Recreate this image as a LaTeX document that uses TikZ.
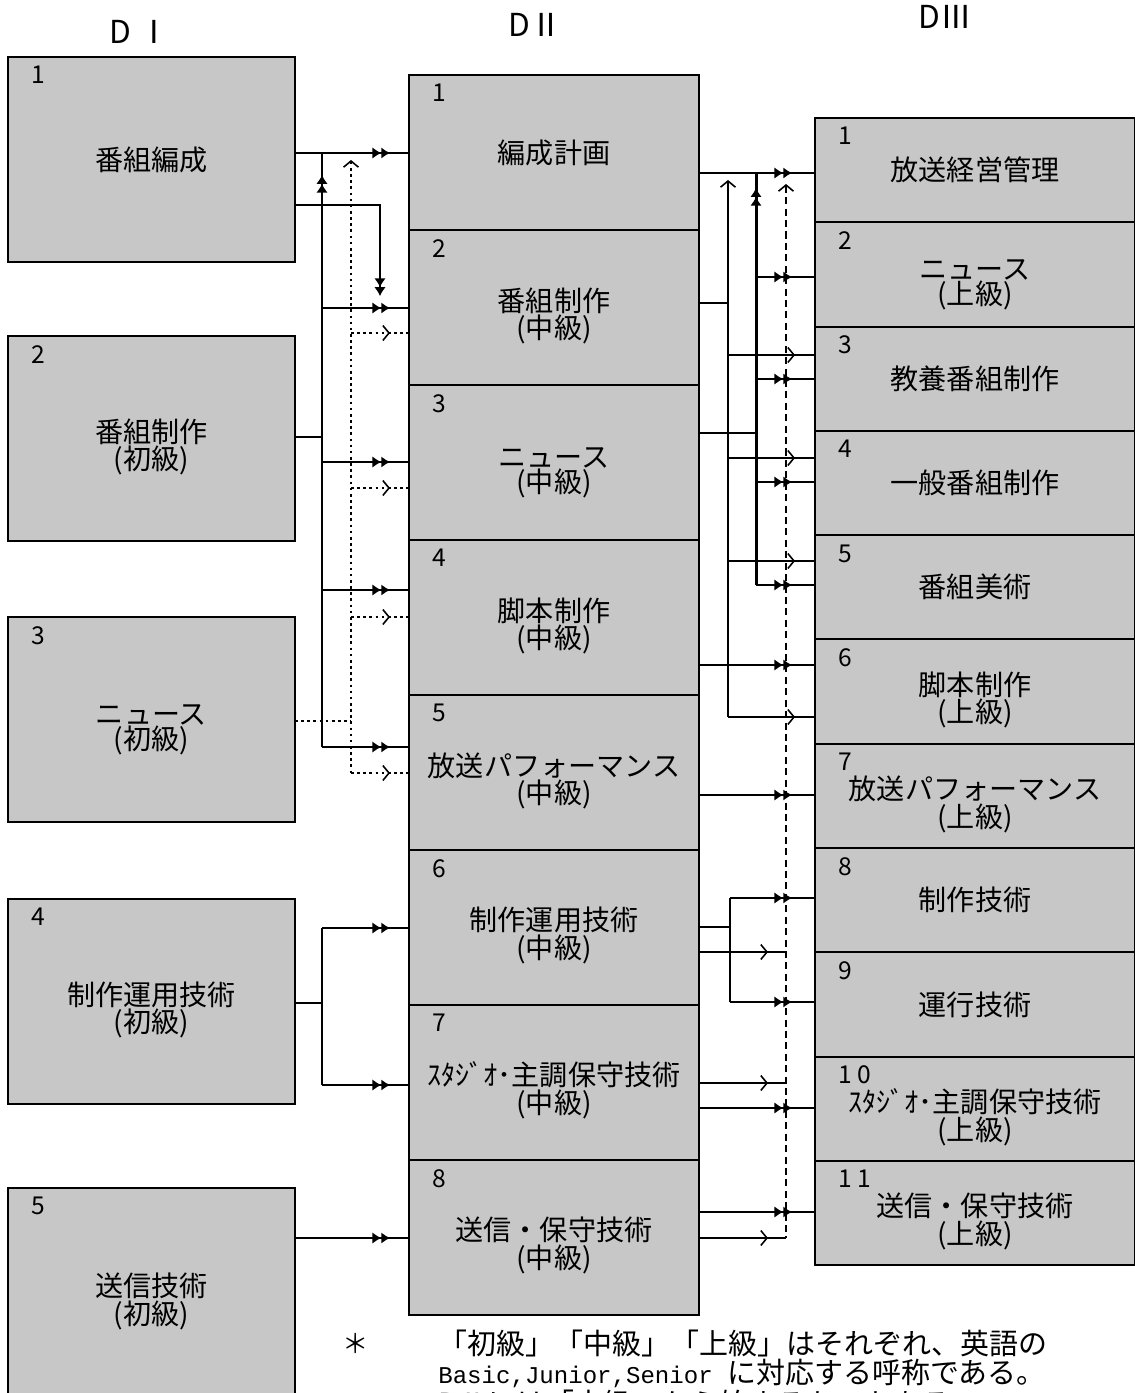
\documentclass[tikz,border=0pt]{standalone}
\usepackage{fontspec}
\setmainfont{Noto Sans CJK JP}
\setmonofont{Liberation Mono}
\usepackage{tikz}
\usetikzlibrary{arrows.meta, positioning, decorations.markings}

\tikzset{
  ftip/.tip={Latex[length=5pt,width=6.5pt]Latex[length=5pt,width=6.5pt]},
  otip/.tip={Straight Barb[length=3.5pt,width=8.5pt,line width=0.9pt]},
}
% first line pushed down a little
\newcommand{\txtdrop}{\rule{0pt}{23pt}}

\begin{document}
\begin{tikzpicture}[
  x=0.02cm, y=-0.02cm,
  kbox/.style={rectangle, draw, line width=1.1pt, fill=black!22, outer sep=0pt, inner sep=0pt, align=center, font=\fontsize{16}{14.5}\selectfont},
  dIbox/.style={kbox, minimum width=5.74cm, minimum height=4.1cm},
  dIIbox/.style={kbox, minimum width=5.8cm, minimum height=3.1cm},
  dIIIbox/.style={kbox, minimum width=6.4cm, minimum height=2.086cm},
  num/.style={label={[anchor=north west, inner sep=0pt, xshift=0.46cm, yshift=-0.18cm, font=\fontsize{14}{14}\selectfont]north west:#1}},
  hd/.style={font=\fontsize{18}{18}\selectfont},
  sline/.style={line width=0.9pt},
  tline/.style={line width=1.7pt},
  dline/.style={line width=1.6pt, dash pattern=on 1.5pt off 2pt},
  kline/.style={line width=1pt, dash pattern=on 4pt off 2.5pt},
  farr/.style={postaction={decorate, decoration={markings, mark=at position -#1 with {\arrow{ftip}}}}},
  oarr/.style={postaction={decorate, decoration={markings, mark=at position -#1 with {\arrow{otip}}}}},
  fup/.style={postaction={decorate, decoration={markings, mark=at position #1 with {\arrowreversed{ftip}}}}},
]
\useasboundingbox (0,0) rectangle (1135,1393);

% headings
\node[hd] (hdI) at (140,32) {D Ⅰ};
\node[hd] (hdII) at (535,25) {DⅡ};
\node[hd] (hdIII) at (945,17) {DⅢ};

% DI
\node[dIbox, num=1] (dI-1) at (151.5,159.5) {番組編成};
\node[dIbox, num=2] (dI-2) at (151.5,438.5) {\txtdrop 番組制作\\(初級)};
\node[dIbox, num=3] (dI-3) at (151.5,719.5) {\txtdrop ニュース\\(初級)};
\node[dIbox, num=4] (dI-4) at (151.5,1001.5) {\txtdrop 制作運用技術\\(初級)};
\node[dIbox, num=5, minimum height=4.2cm] (dI-5) at (151.5,1293) {\txtdrop 送信技術\\(初級)};

% DII
\node[dIIbox, num=1] (dII-1) at (554,152.5) {編成計画};
\node[dIIbox, num=2, below=0pt of dII-1] (dII-2) {\txtdrop 番組制作\\(中級)};
\node[dIIbox, num=3, below=0pt of dII-2] (dII-3) {\txtdrop ニュース\\(中級)};
\node[dIIbox, num=4, below=0pt of dII-3] (dII-4) {\txtdrop 脚本制作\\(中級)};
\node[dIIbox, num=5, below=0pt of dII-4] (dII-5) {\txtdrop 放送パフォーマンス\\(中級)};
\node[dIIbox, num=6, below=0pt of dII-5] (dII-6) {\txtdrop 制作運用技術\\(中級)};
\node[dIIbox, num=7, below=0pt of dII-6] (dII-7) {\txtdrop ｽﾀｼﾞｵ･主調保守技術\\(中級)};
\node[dIIbox, num=8, below=0pt of dII-7] (dII-8) {\txtdrop 送信・保守技術\\(中級)};

% DIII
\node[dIIIbox, num=1] (dIII-1) at (975,170.15) {放送経営管理};
\node[dIIIbox, num=2, below=0pt of dIII-1] (dIII-2) {\txtdrop ニュース\\(上級)};
\node[dIIIbox, num=3, below=0pt of dIII-2] (dIII-3) {教養番組制作};
\node[dIIIbox, num=4, below=0pt of dIII-3] (dIII-4) {一般番組制作};
\node[dIIIbox, num=5, below=0pt of dIII-4] (dIII-5) {番組美術};
\node[dIIIbox, num=6, below=0pt of dIII-5] (dIII-6) {\txtdrop 脚本制作\\(上級)};
\node[dIIIbox, num=7, below=0pt of dIII-6] (dIII-7) {\txtdrop 放送パフォーマンス\\(上級)};
\node[dIIIbox, num=8, below=0pt of dIII-7] (dIII-8) {制作技術};
\node[dIIIbox, num=9, below=0pt of dIII-8] (dIII-9) {運行技術};
\node[dIIIbox, num={1 0}, below=0pt of dIII-9] (dIII-10) {\txtdrop ｽﾀｼﾞｵ･主調保守技術\\(上級)};
\node[dIIIbox, num={1 1}, below=0pt of dIII-10] (dIII-11) {\txtdrop 送信・保守技術\\(上級)};

% junctions
\coordinate (jl1) at (322,0);
\coordinate (jl2) at (351,0);
\coordinate (jl3) at (380,0);
\coordinate (jr1) at (728,0);
\coordinate (jr2) at (756,0);
\coordinate (jr3) at (786,0);
\coordinate (jr4) at (730,0);

% DI -> DII
\draw[sline, farr=0.38cm] (dI-1.east |- 0,153) -- (dII-1.west |- 0,153);
\draw[sline, -{ftip}] (dI-1.east |- 0,205) -| (jl3 |- 0,296);
\draw[sline, fup=0.44cm] (jl1 |- 0,153) -- (jl1 |- 0,747);
\draw[sline] (dI-2.east |- 0,437) -- (jl1 |- 0,437);
\foreach \y/\k in {308/2, 462/3, 590/4, 747/5}
  \draw[sline, farr=0.38cm] (jl1 |- 0,\y) -- (dII-\k.west |- 0,\y);
\draw[dline, {otip}-] (jl2 |- 0,160) -- (jl2 |- 0,773);
\draw[dline] (dI-3.east |- 0,721) -- (jl2 |- 0,721);
\foreach \y/\k in {333/2, 488/3, 617/4, 773/5}
  \draw[dline, oarr=0.38cm] (jl2 |- 0,\y) -- (dII-\k.west |- 0,\y);
\draw[sline] (jl1 |- 0,928) -- (jl1 |- 0,1085);
\draw[sline] (dI-4.east |- 0,1003) -- (jl1 |- 0,1003);
\foreach \y/\k in {928/6, 1085/7}
  \draw[sline, farr=0.38cm] (jl1 |- 0,\y) -- (dII-\k.west |- 0,\y);
\draw[sline, farr=0.38cm] (dI-5.east |- 0,1238) -- (dII-8.west |- 0,1238);

% DII -> DIII
\draw[sline, farr=0.46cm] (dII-1.east |- 0,173) -- (dIII-1.west |- 0,173);
\draw[tline, fup=0.3cm] (jr2 |- 0,173) -- (jr2 |- 0,585);
\draw[sline] (dII-3.east |- 0,433) -- (jr2 |- 0,433);
\foreach \y/\k in {277/2, 379/3, 482/4, 585/5}
  \draw[sline, farr=0.46cm] (jr2 |- 0,\y) -- (dIII-\k.west |- 0,\y);
\draw[sline, {otip}-] (jr1 |- 0,180) -- (jr1 |- 0,717);
\draw[sline] (dII-2.east |- 0,303) -- (jr1 |- 0,303);
\foreach \y/\k in {355/3, 458/4, 561/5, 717/6}
  \draw[sline, oarr=0.4cm] (jr1 |- 0,\y) -- (dIII-\k.west |- 0,\y);
\draw[sline, farr=0.46cm] (dII-4.east |- 0,665) -- (dIII-6.west |- 0,665);
\draw[sline, farr=0.46cm] (dII-5.east |- 0,795) -- (dIII-7.west |- 0,795);
\draw[kline, {otip}-] (jr3 |- 0,184) -- (jr3 |- 0,1238);
\foreach \y/\k in {952/6, 1083/7, 1238/8}
  \draw[sline, oarr=0.36cm] (dII-\k.east |- 0,\y) -- (jr3 |- 0,\y);
\draw[sline] (jr4 |- 0,898) -- (jr4 |- 0,1002);
\draw[sline] (dII-6.east |- 0,927) -- (jr4 |- 0,927);
\foreach \y/\k in {898/8, 1002/9}
  \draw[sline, farr=0.46cm] (jr4 |- 0,\y) -- (dIII-\k.west |- 0,\y);
\draw[sline, farr=0.46cm] (dII-7.east |- 0,1108) -- (dIII-10.west |- 0,1108);
\draw[sline, farr=0.46cm] (dII-8.east |- 0,1212) -- (dIII-11.west |- 0,1212);

% note
\node[font=\fontsize{15}{15}\selectfont] (ast) at (356,1343) {＊};
\node[anchor=north west, align=left, inner sep=0pt, font=\fontsize{16.5}{13.8}\selectfont] (note) at (438,1330)
  {「初級」「中級」「上級」はそれぞれ、英語の\\
   {\ttfamily\fontsize{13.7}{13.8}\selectfont Basic,Junior,Senior }に対応する呼称である。\\
   DⅡには「中級」から始まるものもある。};

\end{tikzpicture}
\end{document}
